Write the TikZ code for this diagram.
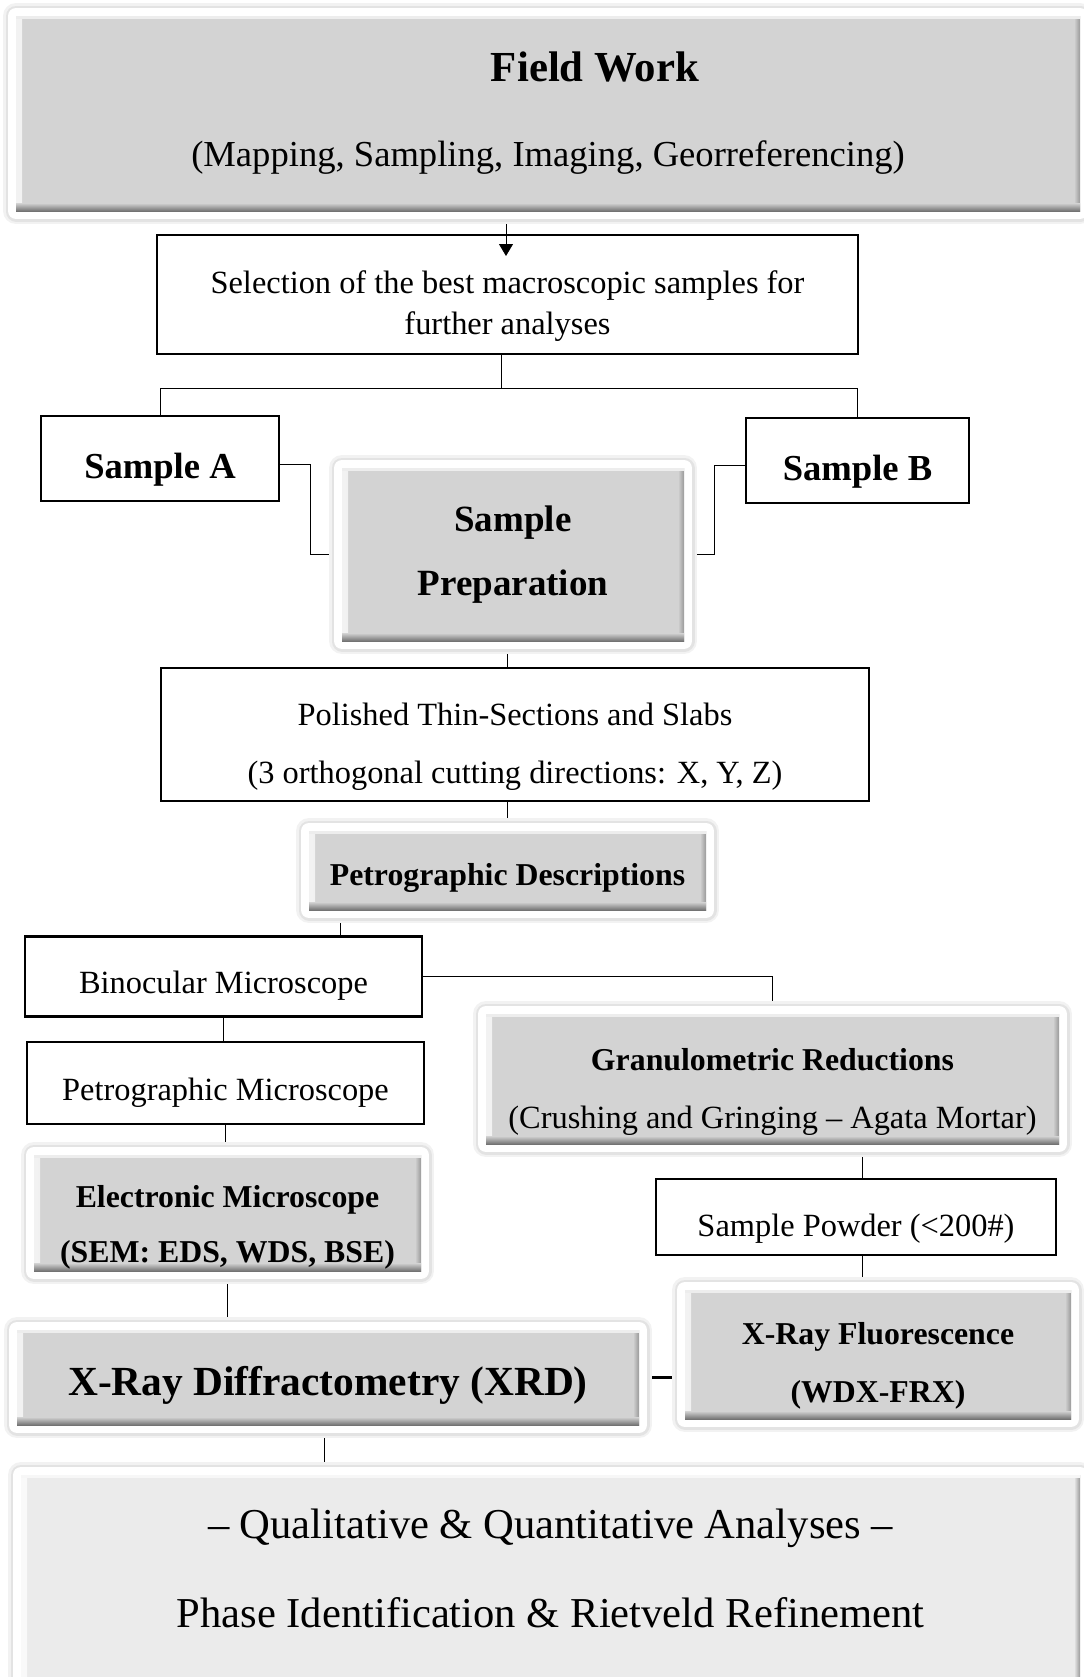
\documentclass[tikz,border=0pt]{standalone}
\usepackage{fontspec}
\setmainfont{Liberation Serif}
\usepackage{tikz}
\usetikzlibrary{arrows.meta, positioning, calc, backgrounds}
\usepackage{xcolor}

\definecolor{boxgray}{RGB}{211,211,211}
\definecolor{palegray}{RGB}{235,235,235}

\tikzset{
  plainbox/.style={draw, line width=1.4pt, align=center, inner sep=0pt},
  bevelbox/.style={fill=#1, align=center, inner sep=0pt,
    preaction={draw=black!5, line width=13pt, line join=round},
    preaction={draw=black!11, line width=10.5pt, line join=round},
    preaction={draw=white, line width=8pt, line join=round},
    path picture={
      \shade[left color=white!70!#1, right color=#1]
        (path picture bounding box.south west) rectangle ([xshift=3pt]path picture bounding box.north west);
      \shade[left color=#1, right color=black!40]
        ([xshift=-3pt]path picture bounding box.south east) rectangle (path picture bounding box.north east);
      \fill[white!60!#1]
        (path picture bounding box.north west) rectangle ([yshift=-1.5pt]path picture bounding box.north east);
      \shade[top color=#1, bottom color=black!55]
        ([yshift=4pt]path picture bounding box.south west) rectangle (path picture bounding box.south east);
    }},
  bevelbox/.default=boxgray,
  link/.style={line width=1.4pt},
}

\begin{document}
\begin{tikzpicture}[x=0.5pt, y=-0.5pt]
  \useasboundingbox (0,0) rectangle (1083,1677);

  % field stage
  \node[bevelbox, minimum width=532pt, minimum height=97.5pt, font=\fontsize{18.3}{42.5}\selectfont] (field) at (548,113.5)
    {{\fontsize{21.4}{22}\selectfont\bfseries\hspace*{47pt}Field Work}\\(Mapping, Sampling, Imaging, Georreferencing)};
  \node[plainbox, minimum width=350.5pt, minimum height=59.5pt, font=\fontsize{16.2}{20.5}\selectfont] (select) at (507.5,294.5)
    {\rule{0pt}{22.6pt}Selection of the best macroscopic samples for\\further analyses};
  \node[plainbox, minimum width=119pt, minimum height=42.5pt, font=\fontsize{18.3}{22}\selectfont\bfseries] (sampa) at (160,458.5)
    {\rule{0pt}{23.5pt}Sample A};
  \node[plainbox, minimum width=111.5pt, minimum height=42.5pt, font=\fontsize{18.3}{22}\selectfont\bfseries] (sampb) at (857.5,460.5)
    {\rule{0pt}{23.5pt}Sample B};

  % preparation
  \node[bevelbox, minimum width=171pt, minimum height=86.5pt, font=\fontsize{18.5}{32}\selectfont\bfseries] (prep) at (513,554.5)
    {Sample\\Preparation};
  \node[plainbox, minimum width=354pt, minimum height=66.5pt, font=\fontsize{16.2}{29}\selectfont] (polish) at (515,734.5)
    {\rule{0pt}{23.1pt}Polished Thin-Sections and Slabs\\(3 orthogonal cutting directions: X, Y, Z)};
  \node[bevelbox, minimum width=198.5pt, minimum height=39.5pt, font=\fontsize{15.9}{19}\selectfont\bfseries] (petro) at (507.5,870.5)
    {\rule{0pt}{18pt}Petrographic Descriptions};

  % microscopy branch
  \node[plainbox, minimum width=198.5pt, minimum height=40pt, font=\fontsize{16.2}{19.5}\selectfont] (binoc) at (223.5,976.5)
    {\rule{0pt}{20pt}Binocular Microscope};
  \node[plainbox, minimum width=198.5pt, minimum height=41pt, font=\fontsize{16.2}{19.5}\selectfont] (petmic) at (225.5,1083)
    {\rule{0pt}{20.6pt}Petrographic Microscope};
  \node[bevelbox, minimum width=193.5pt, minimum height=58pt, font=\fontsize{15.9}{27.5}\selectfont\bfseries] (elec) at (227.5,1213)
    {\rule{0pt}{25.1pt}Electronic Microscope\\(SEM: EDS, WDS, BSE)};

  % powder branch
  \node[bevelbox, minimum width=286.5pt, minimum height=65pt, font=\fontsize{16.2}{29}\selectfont] (gran) at (772.5,1079)
    {{\fontsize{15.9}{29}\selectfont\bfseries\rule{0pt}{24.3pt}Granulometric Reductions}\\(Crushing and Gringing – Agata Mortar)};
  \node[plainbox, minimum width=200pt, minimum height=38pt, font=\fontsize{16.2}{19.5}\selectfont] (powder) at (856,1217)
    {\rule{0pt}{23pt}Sample Powder (<200\#)};
  \node[bevelbox, minimum width=193pt, minimum height=64.5pt, font=\fontsize{15.9}{29}\selectfont\bfseries] (xrf) at (878,1354.5)
    {\rule{0pt}{22.6pt}X-Ray Fluorescence\\(WDX-FRX)};

  % analyses
  \node[bevelbox, minimum width=311pt, minimum height=47.5pt, font=\fontsize{20.7}{25}\selectfont\bfseries] (xrd) at (328,1377.5)
    {\rule{0pt}{22pt}X-Ray Diffractometry (XRD)};
  \node[bevelbox=palegray, minimum width=529.5pt, minimum height=112.5pt, font=\fontsize{21.3}{44.5}\selectfont] (final) at (550.5,1587.5)
    {– Qualitative \& Quantitative Analyses –\\Phase Identification \& Rietveld Refinement\rule[-19.7pt]{0pt}{19.7pt}};

  % connectors
  \begin{scope}[on background layer, link]
    \coordinate (drop) at (506,256);
    \draw[-{Triangle[length=6pt,width=7pt]}] (field.south -| drop) -- (drop);
    \draw ([xshift=-3pt]select.south) -- ++(0,33) coordinate (split);
    \draw (split) -| (sampa.north);
    \draw (split) -| (sampb.north);
    \draw ([yshift=-3pt]sampa.east) -- ++(30,0) |- (prep.west);
    \draw ([yshift=-2.5pt]sampb.west) -- ++(-30,0) |- (prep.east);
    \draw ([xshift=-3pt]prep.south) -- ([xshift=-3pt]prep.south |- polish.north);
    \draw (petro.north |- polish.south) -- (petro.north);
    \draw ([xshift=16pt]petro.south west) -- ([xshift=16pt]petro.south west |- binoc.north);
    \draw (binoc.east) -| (gran.north);
    \draw (binoc.south) -- (binoc.south |- petmic.north);
    \draw (petmic.south) -- (petmic.south |- elec.north);
    \draw (elec.south) -- (elec.south |- xrd.north);
    \draw ([xshift=3pt]powder.north |- gran.south) -- ([xshift=3pt]powder.north);
    \draw ([xshift=3pt]powder.south) -- ([xshift=3pt]powder.south |- xrf.north);
    \draw[line width=1.8pt] (xrd.east) -- (xrd.east -| xrf.west);
    \draw ([xshift=-2pt]xrd.south) -- ([xshift=-2pt]xrd.south |- final.north);
  \end{scope}
\end{tikzpicture}
\end{document}
